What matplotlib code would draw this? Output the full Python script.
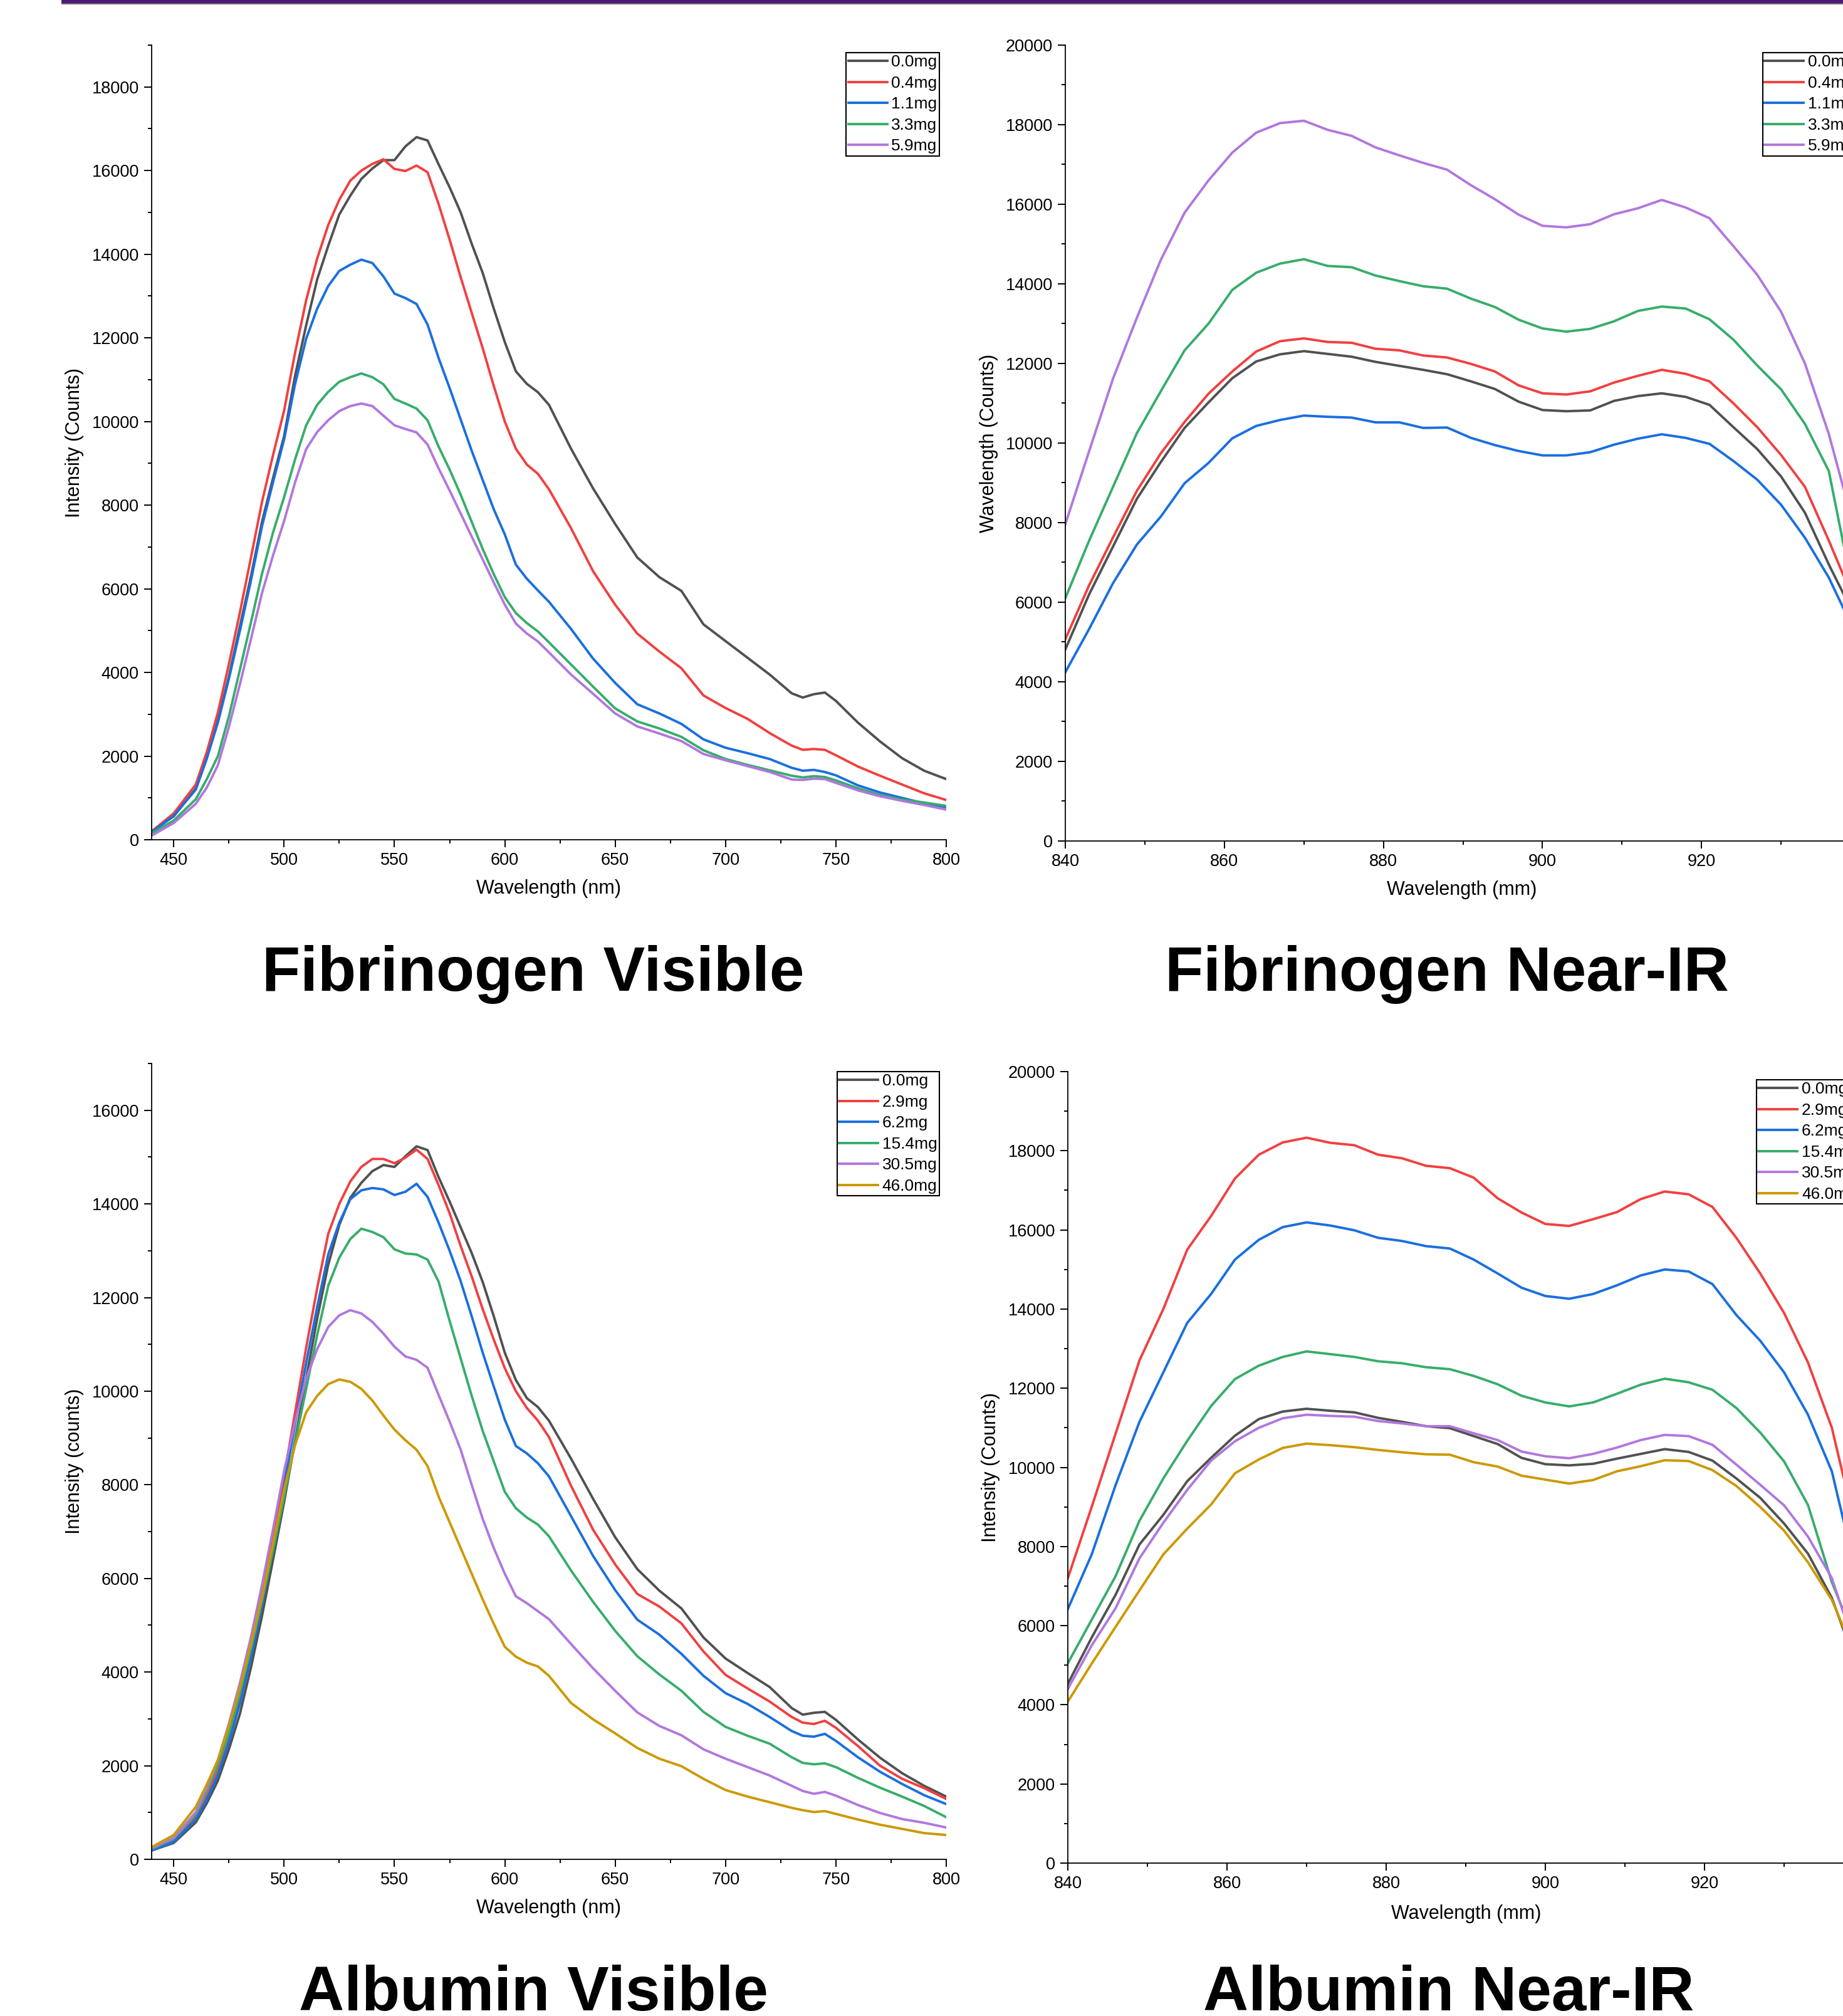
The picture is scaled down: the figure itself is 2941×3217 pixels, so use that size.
import matplotlib
matplotlib.use("Agg")
import matplotlib.pyplot as plt
from matplotlib.patches import Rectangle
from matplotlib.ticker import MultipleLocator

plt.rcParams['font.family'] = ['Liberation Sans', 'DejaVu Sans']

# ---- data ----
wl_vis = [440, 450, 460, 465, 470, 475, 480, 485, 490, 495, 500, 505, 510, 515, 520, 525, 530,
          535, 540, 545, 550, 555, 560, 565, 570, 575, 580, 585, 590, 595, 600, 605,
          610, 615, 620, 630, 640, 650, 660, 670, 680, 690, 700, 710, 720, 730,
          735, 740, 745, 750, 760, 770, 780, 790, 800]

fib_labels = ["0.0mg", "0.4mg", "1.1mg", "3.3mg", "5.9mg"]
fib_vis_00 = [200, 560, 1220, 1950, 2850, 3900, 5100, 6300, 7600, 8650, 9650, 11100, 12300, 13400, 14200, 14950, 15400,
              15800, 16050, 16250, 16250, 16580, 16800, 16720, 16150, 15600, 15000, 14250, 13550, 12700, 11900, 11200,
              10900, 10700, 10400, 9350, 8400, 7550, 6750, 6280, 5950, 5150, 4750, 4350, 3950, 3500,
              3400, 3480, 3520, 3320, 2800, 2350, 1950, 1650, 1450]
fib_vis_04 = [200, 630, 1320, 2100, 3040, 4200, 5440, 6750, 8080, 9200, 10260, 11650, 12900, 13900, 14700, 15300, 15760,
              16000, 16160, 16270, 16040, 15990, 16120, 15960, 15200, 14350, 13450, 12600, 11750, 10850, 10000, 9350,
              8970, 8750, 8380, 7450, 6420, 5620, 4930, 4500, 4100, 3450, 3150, 2890, 2550, 2250,
              2150, 2170, 2150, 2020, 1750, 1530, 1320, 1110, 950]
fib_vis_11 = [180, 570, 1200, 1950, 2800, 3850, 5000, 6200, 7500, 8550, 9570, 10900, 11980, 12700, 13240, 13600, 13750,
              13870, 13790, 13470, 13060, 12950, 12810, 12320, 11520, 10800, 10050, 9300, 8600, 7900, 7300, 6580,
              6240, 5960, 5690, 5040, 4330, 3750, 3240, 3020, 2770, 2400, 2200, 2070, 1930, 1720,
              1650, 1670, 1620, 1540, 1300, 1130, 1000, 870, 780]
fib_vis_33 = [150, 460, 970, 1450, 2000, 2950, 4070, 5200, 6360, 7350, 8190, 9100, 9910, 10400, 10710, 10950, 11060,
              11150, 11060, 10890, 10540, 10430, 10310, 10030, 9400, 8850, 8250, 7600, 6950, 6350, 5800, 5420,
              5180, 4980, 4720, 4190, 3660, 3140, 2830, 2660, 2460, 2140, 1930, 1790, 1660, 1530,
              1490, 1520, 1500, 1420, 1230, 1070, 960, 890, 810]
fib_vis_59 = [100, 400, 860, 1250, 1780, 2700, 3720, 4800, 5900, 6800, 7620, 8550, 9340, 9750, 10030, 10250, 10370,
              10430, 10370, 10140, 9910, 9820, 9740, 9450, 8880, 8350, 7800, 7250, 6700, 6150, 5620, 5170,
              4930, 4740, 4480, 3950, 3490, 3020, 2710, 2540, 2360, 2050, 1900, 1760, 1620, 1440,
              1430, 1460, 1450, 1360, 1180, 1040, 930, 830, 720]

alb_labels = ["0.0mg", "2.9mg", "6.2mg", "15.4mg", "30.5mg", "46.0mg"]
alb_vis_00 = [190, 350, 790, 1200, 1680, 2350, 3110, 4100, 5200, 6400, 7630, 8950, 10270, 11550, 12700, 13550, 14130,
              14450, 14700, 14830, 14790, 15020, 15230, 15150, 14570, 14050, 13500, 12950, 12330, 11600, 10820, 10240,
              9850, 9660, 9370, 8560, 7700, 6880, 6200, 5740, 5360, 4740, 4290, 3980, 3680, 3230,
              3090, 3130, 3150, 2980, 2560, 2170, 1840, 1570, 1340]
alb_vis_29 = [210, 410, 900, 1350, 1900, 2600, 3440, 4500, 5640, 6900, 8180, 9550, 10930, 12200, 13360, 14000, 14480,
              14790, 14960, 14960, 14870, 14990, 15160, 14960, 14400, 13800, 13100, 12450, 11750, 11100, 10490, 10000,
              9640, 9370, 9020, 7980, 7040, 6300, 5670, 5400, 5040, 4440, 3940, 3650, 3370, 3040,
              2920, 2890, 2960, 2810, 2420, 2000, 1720, 1520, 1290]
alb_vis_62 = [190, 370, 850, 1280, 1790, 2500, 3330, 4320, 5420, 6650, 7960, 9300, 10600, 11800, 12920, 13600, 14100,
              14290, 14340, 14310, 14190, 14260, 14430, 14150, 13600, 13000, 12350, 11600, 10820, 10100, 9390, 8830,
              8670, 8460, 8180, 7330, 6480, 5750, 5120, 4800, 4390, 3920, 3550, 3320, 3040, 2740,
              2640, 2620, 2680, 2530, 2180, 1870, 1610, 1370, 1180]
alb_vis_154 = [220, 440, 960, 1450, 2010, 2700, 3550, 4500, 5530, 6600, 7740, 8900, 10050, 11200, 12250, 12850, 13250,
               13470, 13400, 13290, 13030, 12940, 12920, 12810, 12340, 11500, 10700, 9900, 9150, 8500, 7850, 7500,
               7300, 7150, 6900, 6170, 5500, 4880, 4340, 3950, 3600, 3150, 2830, 2640, 2470, 2180,
               2060, 2030, 2050, 1970, 1740, 1530, 1340, 1140, 900]
alb_vis_305 = [240, 460, 1010, 1520, 2120, 2900, 3770, 4750, 5860, 7050, 8290, 9350, 10270, 10900, 11370, 11620, 11730,
               11660, 11480, 11230, 10950, 10740, 10670, 10500, 9920, 9350, 8750, 8000, 7270, 6650, 6100, 5620,
               5470, 5300, 5130, 4600, 4080, 3600, 3140, 2850, 2650, 2350, 2150, 1970, 1790, 1570,
               1460, 1400, 1440, 1360, 1160, 990, 860, 780, 680]
alb_vis_460 = [260, 520, 1120, 1600, 2120, 2850, 3660, 4600, 5600, 6750, 7900, 8850, 9550, 9900, 10150, 10250, 10200,
               10050, 9800, 9480, 9180, 8950, 8750, 8400, 7750, 7200, 6650, 6100, 5550, 5030, 4540, 4330,
               4200, 4120, 3920, 3340, 2990, 2690, 2380, 2150, 1990, 1720, 1480, 1340, 1220, 1100,
               1050, 1010, 1030, 970, 850, 740, 650, 560, 520]

wl_nir = [840, 843, 846, 849, 852, 855, 858, 861, 864, 867, 870, 873, 876, 879, 882, 885, 888, 891, 894, 897,
          900, 903, 906, 909, 912, 915, 918, 921, 924, 927, 930, 933, 936, 938]

fib_nir_00 = [4815, 6200, 7400, 8600, 9520, 10380, 11020, 11630, 12050, 12230, 12310, 12240, 12170, 12040, 11940, 11840, 11730,
              11550, 11360, 11040, 10830, 10800, 10820, 11060, 11180, 11250, 11160, 10960, 10400, 9850, 9160, 8250, 6950, 6150]
fib_nir_04 = [5070, 6430, 7630, 8800, 9740, 10530, 11240, 11800, 12300, 12560, 12630, 12540, 12520, 12370, 12330, 12200, 12150,
              11990, 11800, 11450, 11250, 11220, 11300, 11520, 11690, 11840, 11740, 11550, 11000, 10400, 9700, 8900, 7550, 6600]
fib_nir_11 = [4240, 5330, 6480, 7450, 8150, 8990, 9500, 10120, 10430, 10580, 10690, 10660, 10640, 10520, 10520, 10380, 10390,
              10130, 9950, 9800, 9690, 9690, 9770, 9960, 10110, 10220, 10130, 9980, 9550, 9080, 8450, 7620, 6620, 5780]
fib_nir_33 = [6100, 7550, 8900, 10250, 11300, 12330, 13000, 13850, 14280, 14510, 14620, 14450, 14420, 14210, 14070, 13940, 13880,
              13630, 13420, 13100, 12880, 12800, 12870, 13060, 13320, 13430, 13380, 13110, 12600, 11950, 11350, 10480, 9300, 7300]
fib_nir_59 = [7960, 9800, 11620, 13150, 14600, 15790, 16600, 17300, 17800, 18040, 18100, 17870, 17720, 17430, 17230, 17040, 16870,
              16480, 16130, 15740, 15460, 15420, 15500, 15750, 15900, 16110, 15920, 15650, 14950, 14230, 13300, 12000, 10230, 8750]

alb_nir_00 = [4530, 5700, 6780, 8050, 8800, 9650, 10240, 10800, 11220, 11410, 11480, 11430, 11390, 11250, 11150, 11040, 10990,
              10790, 10590, 10240, 10080, 10050, 10090, 10220, 10340, 10460, 10390, 10170, 9720, 9230, 8580, 7820, 6700, 5600]
alb_nir_29 = [7200, 9000, 10850, 12700, 14000, 15500, 16350, 17300, 17900, 18210, 18330, 18200, 18140, 17900, 17810, 17620, 17560,
              17320, 16800, 16440, 16150, 16100, 16270, 16450, 16780, 16970, 16900, 16580, 15800, 14900, 13900, 12650, 11000, 9300]
alb_nir_62 = [6420, 7800, 9550, 11150, 12400, 13650, 14380, 15250, 15750, 16070, 16190, 16110, 15990, 15800, 15720, 15590, 15530,
              15250, 14900, 14540, 14330, 14260, 14380, 14600, 14850, 15000, 14950, 14630, 13850, 13200, 12400, 11330, 9900, 8200]
alb_nir_154 = [5050, 6150, 7250, 8650, 9720, 10670, 11550, 12230, 12570, 12790, 12930, 12860, 12790, 12680, 12630, 12530, 12480,
               12310, 12100, 11810, 11640, 11540, 11640, 11860, 12090, 12240, 12150, 11960, 11500, 10880, 10150, 9050, 7100, 6100]
alb_nir_305 = [4400, 5500, 6440, 7700, 8600, 9430, 10170, 10660, 11000, 11240, 11330, 11300, 11280, 11170, 11110, 11040, 11040,
               10860, 10690, 10400, 10280, 10230, 10340, 10500, 10690, 10820, 10790, 10570, 10070, 9560, 9040, 8250, 7200, 6000]
alb_nir_460 = [4080, 5040, 5970, 6890, 7800, 8450, 9060, 9850, 10200, 10490, 10600, 10560, 10510, 10440, 10380, 10330, 10320,
               10130, 10020, 9790, 9690, 9590, 9680, 9900, 10030, 10180, 10160, 9930, 9530, 9000, 8400, 7600, 6650, 5700]

colors = ["#515151", "#F14040", "#1A6FDF", "#37AD6B", "#B177DE", "#CC9900"]

W, H = 2941, 3217
fig = plt.figure(figsize=(W / 100, H / 100), dpi=100)


def _axes(left, top, right, bottom):
    return fig.add_axes([left / W, 1 - bottom / H, (right - left) / W, (bottom - top) / H])


def _panel(ax, wl, series, labels, xlim, ylim, xmaj, ymax_lab, xlabel, ylabel, ylab_x, leg_xy, leg_loc):
    for s, lab, c in zip(series, labels, colors):
        ax.plot(wl, s, color=c, lw=2.8, label=lab, solid_joinstyle='round')
    ax.set_xlim(*xlim)
    ax.set_ylim(*ylim)
    ax.xaxis.set_major_locator(MultipleLocator(xmaj))
    ax.xaxis.set_minor_locator(MultipleLocator(xmaj / 2))
    ax.set_yticks(range(0, ymax_lab + 1, 2000))
    ax.yaxis.set_minor_locator(MultipleLocator(1000))
    for sp in ["top", "right"]:
        ax.spines[sp].set_visible(False)
    for sp in ["left", "bottom"]:
        ax.spines[sp].set_linewidth(1.3)
    ax.tick_params(which="major", direction="out", length=8.5, width=1.4, labelsize=19.5, pad=6)
    ax.tick_params(which="minor", direction="out", length=4, width=1.4)
    ax.set_xlabel(xlabel, fontsize=22)
    ax.set_ylabel(ylabel, fontsize=22)
    ax.xaxis.set_label_coords(0.5, -0.05)
    ax.yaxis.set_label_coords(ylab_x, 0.5)
    leg = ax.legend(loc=leg_loc, bbox_to_anchor=(leg_xy[0] / W, 1 - leg_xy[1] / H),
                    bbox_transform=fig.transFigure, fontsize=19, frameon=True, fancybox=False,
                    edgecolor="black", framealpha=1, borderpad=0.13, handlelength=2.35,
                    handletextpad=0.25, labelspacing=0.36, borderaxespad=0)
    leg.get_frame().set_linewidth(1.5)
    return ax


ax1 = _axes(242, 72, 1510, 1340)
_panel(ax1, wl_vis, [fib_vis_00, fib_vis_04, fib_vis_11, fib_vis_33, fib_vis_59], fib_labels,
       (440, 800), (0, 19000), 50, 18000, "Wavelength (nm)", "Intensity (Counts)", -0.085,
       (1499, 84), "upper right")

ax2 = _axes(1700, 72, 3096, 1342)
_panel(ax2, wl_nir, [fib_nir_00, fib_nir_04, fib_nir_11, fib_nir_33, fib_nir_59], fib_labels,
       (840, 950), (0, 20000), 20, 20000, "Wavelength (mm)", "Wavelength (Counts)", -0.077,
       (2813, 84), "upper left")
ax2.xaxis.set_label_coords(0.453, -0.05)

ax3 = _axes(242, 1697, 1510, 2967)
_panel(ax3, wl_vis, [alb_vis_00, alb_vis_29, alb_vis_62, alb_vis_154, alb_vis_305, alb_vis_460], alb_labels,
       (440, 800), (0, 17000), 50, 16000, "Wavelength (nm)", "Intensity (counts)", -0.085,
       (1499, 1710), "upper right")

ax4 = _axes(1704, 1710, 3101, 2973)
_panel(ax4, wl_nir, [alb_nir_00, alb_nir_29, alb_nir_62, alb_nir_154, alb_nir_305, alb_nir_460], alb_labels,
       (840, 950), (0, 20000), 20, 20000, "Wavelength (mm)", "Intensity (Counts)", -0.077,
       (2803, 1723), "upper left")
ax4.xaxis.set_label_coords(0.455, -0.052)

# big panel titles
for txt, x, y in [("Fibrinogen Visible", 851, 1581), ("Fibrinogen Near-IR", 2309, 1581),
                  ("Albumin Visible", 851, 3208), ("Albumin Near-IR", 2312, 3208)]:
    fig.text(x / W, 1 - y / H, txt, fontsize=72, fontweight="bold", ha="center", va="baseline")

# purple banner edge at the very top
fig.patches.append(Rectangle((98 / W, 1 - 5 / H), 1, 5 / H, transform=fig.transFigure,
                             facecolor="#4E1A75", edgecolor="none"))
fig.patches.append(Rectangle((98 / W, 1 - 7 / H), 1, 2 / H, transform=fig.transFigure,
                             facecolor="#6a6a6a", edgecolor="none"))

fig.savefig("out.png", dpi=100)
